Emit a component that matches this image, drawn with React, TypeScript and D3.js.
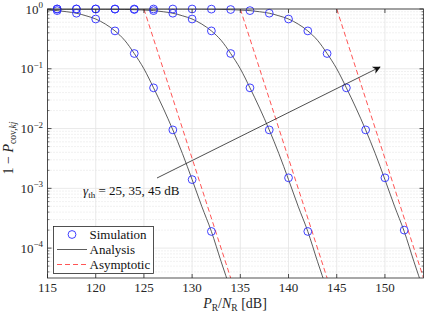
import React, { useEffect, useRef } from 'react';
import * as d3 from 'd3';

interface Point {
  x: number;
  y: number;
}

// x ticks and y decades
const xTicks = [115, 120, 125, 130, 135, 140, 145, 150];
const yDecades = [0, -1, -2, -3, -4];

// simulation markers (step 2 dB)
const simX1 = [116, 118, 120, 122, 124, 126, 128, 130, 132];
const simY1 = [0.94, 0.85, 0.68, 0.43, 0.18, 0.048, 0.0095, 0.0014, 0.00019];
const simX2 = [116, 118, 120, 122, 124, 126, 128, 130, 132, 134, 136, 138, 140, 142];
const simY2 = [1, 1, 1, 0.995, 0.98, 0.94, 0.85, 0.68, 0.43, 0.18, 0.048, 0.0095, 0.0015, 0.00019];
const simX3 = [116, 118, 120, 122, 124, 126, 128, 130, 132, 134, 136, 138, 140, 142, 144, 146, 148, 150, 152];
const simY3 = [1, 1, 1, 1, 1, 1, 1, 1, 0.995, 0.98, 0.94, 0.85, 0.68, 0.43, 0.18, 0.048, 0.0095, 0.0015, 0.0002];

// analysis curves (1 dB steps)
const anaX1 = [115, 116, 117, 118, 119, 120, 121, 122, 123, 124, 125, 126, 127, 128, 129, 130, 131, 132, 133, 134];
const anaY1 = [0.96, 0.94, 0.9, 0.85, 0.77, 0.68, 0.56, 0.43, 0.3, 0.18, 0.1, 0.048, 0.022, 0.0095, 0.0038, 0.0014, 0.0005, 0.00019, 0.00006, 0.00002];
const anaX2 = [115, 116, 117, 118, 119, 120, 121, 122, 123, 124, 125, 126, 127, 128, 129, 130, 131, 132, 133, 134, 135, 136, 137, 138, 139, 140, 141, 142, 143, 144];
const anaY2 = [1, 1, 1, 1, 1, 0.999, 0.997, 0.993, 0.985, 0.975, 0.96, 0.94, 0.9, 0.85, 0.77, 0.68, 0.56, 0.43, 0.3, 0.18, 0.1, 0.048, 0.022, 0.0095, 0.0038, 0.0014, 0.0005, 0.00019, 0.00006, 0.00002];
const anaX3 = [115, 117, 119, 121, 123, 125, 126, 127, 128, 129, 130, 131, 132, 133, 134, 135, 136, 137, 138, 139, 140, 141, 142, 143, 144, 145, 146, 147, 148, 149, 150, 151, 152, 153, 154];
const anaY3 = [1, 1, 1, 1, 1, 1, 1, 1, 1, 1, 0.999, 0.997, 0.993, 0.985, 0.975, 0.96, 0.94, 0.9, 0.85, 0.77, 0.68, 0.56, 0.43, 0.3, 0.18, 0.1, 0.048, 0.022, 0.0095, 0.0038, 0.0014, 0.0005, 0.00019, 0.00006, 0.00002];

// asymptotic lines (end points)
const asyX1 = [125, 135];
const asyX2 = [135, 145];
const asyX3 = [145, 155];
const asyY = [1, 1e-5];

const legendLabels = ['Simulation', 'Analysis', 'Asymptotic'];

const toPts = (xs: number[], ys: number[]): Point[] => xs.map((x, i) => ({ x, y: ys[i] }));

const App: React.FC = () => {
  const svgRef = useRef<SVGSVGElement>(null);

  useEffect(() => {
    if (!svgRef.current) return;
    const svg = d3.select(svgRef.current);
    svg.selectAll('*').remove();

    const font = "Liberation Serif, Times New Roman, serif";
    const left = 47.5, right = 423.5, top = 9, bottom = 278;

    const xScale = d3.scaleLinear().domain([115, 154]).range([left, right]);
    const yScale = d3.scaleLog().domain([Math.pow(10, -4.5), 1]).range([bottom, top]);

    svg.append('rect').attr('width', 429).attr('height', 316).attr('fill', '#fff');

    svg.append('defs').append('clipPath').attr('id', 'plotclip')
      .append('rect').attr('x', left).attr('y', top).attr('width', right - left).attr('height', bottom - top);

    const grid = svg.append('g');
    // minor y grid (dotted)
    const minors: number[] = [];
    for (let d = -5; d < 0; d++) {
      for (let m = 2; m <= 9; m++) {
        const v = m * Math.pow(10, d);
        if (v > Math.pow(10, -4.5) && v < 1) minors.push(v);
      }
    }
    minors.forEach(v => {
      grid.append('line')
        .attr('x1', left).attr('x2', right)
        .attr('y1', yScale(v)).attr('y2', yScale(v))
        .attr('stroke', '#d0d0d0').attr('stroke-width', 0.6)
        .attr('stroke-dasharray', '1,2');
    });
    // major grid
    yDecades.forEach(d => {
      const y = yScale(Math.pow(10, d));
      grid.append('line').attr('x1', left).attr('x2', right).attr('y1', y).attr('y2', y)
        .attr('stroke', '#e3e3e3').attr('stroke-width', 0.8);
    });
    xTicks.forEach(t => {
      const x = xScale(t);
      grid.append('line').attr('x1', x).attr('x2', x).attr('y1', top).attr('y2', bottom)
        .attr('stroke', '#e3e3e3').attr('stroke-width', 0.8);
    });

    const plot = svg.append('g').attr('clip-path', 'url(#plotclip)');

    const line = d3.line<Point>()
      .x(d => xScale(d.x))
      .y(d => yScale(d.y))
      .curve(d3.curveMonotoneX);

    [toPts(asyX1, asyY), toPts(asyX2, asyY), toPts(asyX3, asyY)].forEach(pts => {
      plot.append('path').datum(pts)
        .attr('d', d3.line<Point>().x(d => xScale(d.x)).y(d => yScale(d.y)))
        .attr('fill', 'none').attr('stroke', '#ff2a2a').attr('stroke-width', 0.8)
        .attr('stroke-dasharray', '5,3');
    });

    [toPts(anaX1, anaY1), toPts(anaX2, anaY2), toPts(anaX3, anaY3)].forEach(pts => {
      plot.append('path').datum(pts)
        .attr('d', line)
        .attr('fill', 'none').attr('stroke', '#333').attr('stroke-width', 0.8);
    });

    const simAll = [toPts(simX1, simY1), toPts(simX2, simY2), toPts(simX3, simY3)];
    simAll.forEach(pts => {
      svg.append('g').selectAll('circle').data(pts).enter().append('circle')
        .attr('cx', d => xScale(d.x)).attr('cy', d => yScale(d.y)).attr('r', 3.9)
        .attr('fill', 'none').attr('stroke', '#2b2bff').attr('stroke-width', 0.9);
    });

    // axes box
    const axes = svg.append('g');
    axes.append('rect').attr('x', left).attr('y', top).attr('width', right - left).attr('height', bottom - top)
      .attr('fill', 'none').attr('stroke', '#262626').attr('stroke-width', 0.8);

    xTicks.forEach(t => {
      const x = xScale(t);
      axes.append('line').attr('x1', x).attr('x2', x).attr('y1', bottom).attr('y2', bottom - 4)
        .attr('stroke', '#262626').attr('stroke-width', 0.8);
      axes.append('line').attr('x1', x).attr('x2', x).attr('y1', top).attr('y2', top + 4)
        .attr('stroke', '#262626').attr('stroke-width', 0.8);
      axes.append('text').attr('x', x).attr('y', 292)
        .attr('text-anchor', 'middle').attr('font-family', font).attr('font-size', 13)
        .attr('fill', '#262626').text(t);
    });

    yDecades.forEach(d => {
      const y = yScale(Math.pow(10, d));
      [[left, left + 4], [right, right - 4]].forEach(([a, b]) => {
        axes.append('line').attr('x1', a).attr('x2', b).attr('y1', y).attr('y2', y)
          .attr('stroke', '#262626').attr('stroke-width', 0.8);
      });
      const txt = axes.append('text').attr('x', 43).attr('y', y + 4.5)
        .attr('text-anchor', 'end').attr('font-family', font).attr('font-size', 13)
        .attr('fill', '#262626');
      txt.append('tspan').text('10');
      txt.append('tspan').attr('dy', -5.5).attr('font-size', 9).text(d === 0 ? '0' : `\u2212${-d}`);
    });
    minors.forEach(v => {
      const y = yScale(v);
      [[left, left + 2], [right, right - 2]].forEach(([a, b]) => {
        axes.append('line').attr('x1', a).attr('x2', b).attr('y1', y).attr('y2', y)
          .attr('stroke', '#262626').attr('stroke-width', 0.6);
      });
    });

    // x label
    const xl = svg.append('text').attr('x', 235).attr('y', 308).attr('text-anchor', 'middle')
      .attr('font-family', font).attr('font-size', 14).attr('fill', '#262626');
    xl.append('tspan').attr('font-style', 'italic').text('P');
    xl.append('tspan').attr('dy', 3).attr('font-size', 9.5).text('R');
    xl.append('tspan').attr('dy', -3).text('/');
    xl.append('tspan').attr('font-style', 'italic').text('N');
    xl.append('tspan').attr('dy', 3).attr('font-size', 9.5).text('R');
    xl.append('tspan').attr('dy', -3).text(' [dB]');

    // y label
    const yl = svg.append('text').attr('transform', 'translate(13,148) rotate(-90)')
      .attr('text-anchor', 'middle').attr('font-family', font).attr('font-size', 14).attr('fill', '#262626');
    yl.append('tspan').text('1 \u2212 ');
    yl.append('tspan').attr('font-style', 'italic').text('P');
    yl.append('tspan').attr('dy', 3).attr('font-size', 9.5).text('cov,');
    yl.append('tspan').attr('font-size', 9.5).attr('font-style', 'italic').text('kj');

    // arrow annotation
    const defs = svg.select('defs');
    defs.append('marker').attr('id', 'arrowhead').attr('viewBox', '0 0 10 10')
      .attr('refX', 9).attr('refY', 5).attr('markerWidth', 11).attr('markerHeight', 8)
      .attr('markerUnits', 'userSpaceOnUse').attr('orient', 'auto')
      .append('path').attr('d', 'M0,0 L10,5 L0,10 L3,5 Z').attr('fill', '#111');
    svg.append('line').attr('x1', 157).attr('y1', 178).attr('x2', 380).attr('y2', 67)
      .attr('stroke', '#222').attr('stroke-width', 0.8).attr('marker-end', 'url(#arrowhead)');

    const ann = svg.append('text').attr('x', 83).attr('y', 195)
      .attr('font-family', font).attr('font-size', 13).attr('fill', '#111');
    ann.append('tspan').attr('font-style', 'italic').text('\u03b3');
    ann.append('tspan').attr('dy', 2.5).attr('font-size', 9).text('th');
    ann.append('tspan').attr('dy', -2.5).text(' = 25, 35, 45 dB');

    // legend
    const lg = svg.append('g');
    lg.append('rect').attr('x', 53.5).attr('y', 226.5).attr('width', 100).attr('height', 47)
      .attr('fill', '#fff').attr('stroke', '#262626').attr('stroke-width', 0.8);
    const rows = [234.5, 249.5, 264.5];
    lg.append('circle').attr('cx', 72).attr('cy', rows[0]).attr('r', 3.9)
      .attr('fill', 'none').attr('stroke', '#2b2bff').attr('stroke-width', 0.9);
    lg.append('line').attr('x1', 57).attr('x2', 87).attr('y1', rows[1]).attr('y2', rows[1])
      .attr('stroke', '#333').attr('stroke-width', 0.8);
    lg.append('line').attr('x1', 57).attr('x2', 87).attr('y1', rows[2]).attr('y2', rows[2])
      .attr('stroke', '#ff2a2a').attr('stroke-width', 0.8).attr('stroke-dasharray', '5,3');
    legendLabels.forEach((l, i) => {
      lg.append('text').attr('x', 89.5).attr('y', rows[i] + 4.5)
        .attr('font-family', font).attr('font-size', 13).attr('fill', '#111').text(l);
    });
  }, []);

  return (
    <svg ref={svgRef} width={429} height={316}
      style={{ position: 'absolute', left: 0, top: 0 }} />
  );
};

export default App;
